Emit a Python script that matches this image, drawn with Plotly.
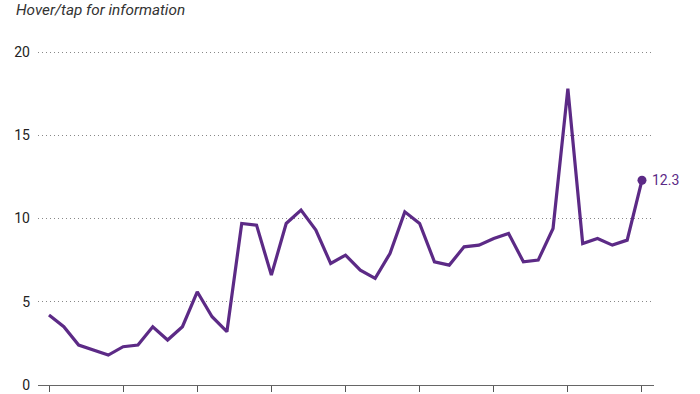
import plotly.graph_objects as go

years = list(range(1980, 2021))
values = [4.2, 3.5, 2.4, 2.1, 1.8, 2.3, 2.4, 3.5, 2.7, 3.5,
          5.6, 4.1, 3.2, 9.7, 9.6, 6.6, 9.7, 10.5, 9.3, 7.3,
          7.8, 6.9, 6.4, 7.9, 10.4, 9.7, 7.4, 7.2, 8.3, 8.4,
          8.8, 9.1, 7.4, 7.5, 9.4, 17.8, 8.5, 8.8, 8.4, 8.7, 12.3]
x_ticks = list(range(1980, 2021, 5))
y_ticks = [0, 5, 10, 15, 20]
title_text = "Hover/tap for information"

purple = "#5c2a86"

fig = go.Figure()
fig.add_trace(go.Scatter(x=years, y=values, mode="lines",
                         line=dict(color=purple, width=3.2),
                         hoverinfo="x+y", showlegend=False))
fig.add_trace(go.Scatter(x=[years[-1]], y=[values[-1]], mode="markers",
                         marker=dict(color=purple, size=9),
                         cliponaxis=False,
                         showlegend=False, hoverinfo="skip"))

fig.update_layout(
    width=700, height=394,
    margin=dict(l=38, r=46, t=50, b=9, autoexpand=False),
    paper_bgcolor="white", plot_bgcolor="white",
    font=dict(family="Roboto", color="#222", size=14),
    annotations=[
        dict(text=f"<i>{title_text}</i>", xref="paper", yref="paper",
             x=-0.039, y=1.0, xanchor="left", yanchor="middle",
             yshift=40, showarrow=False,
             font=dict(size=15.3, color="#333", family="Roboto")),
        dict(text=f"{values[-1]}", x=years[-1], y=values[-1],
             xref="x", yref="y", xanchor="left", yanchor="middle",
             xshift=8, showarrow=False,
             font=dict(size=14, color=purple, family="Roboto")),
    ],
)
fig.update_xaxes(range=[1980 - 0.742, 2020 + 0.81], tickvals=x_ticks,
                 showticklabels=False, ticks="outside", ticklen=6,
                 tickcolor="#555", showline=True, linecolor="#666", linewidth=1,
                 showgrid=False, zeroline=False, automargin=False)
fig.update_yaxes(range=[0, 20.12], tickvals=y_ticks, showgrid=True,
                 gridcolor="#888", griddash="1px,3px", gridwidth=1,
                 zeroline=False, showline=False, ticks="", ticklabelstandoff=7,
                 automargin=False,
                 tickfont=dict(size=14, color="#222"))

fig.write_html("out.html", config={"displayModeBar": False},
               post_script="document.body.style.margin='0';")
